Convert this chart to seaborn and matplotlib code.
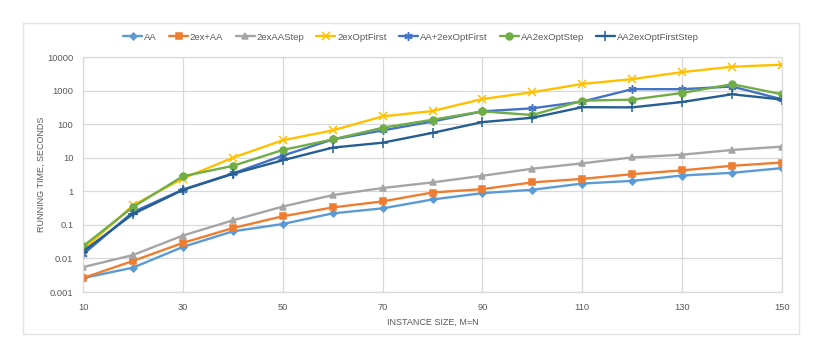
import pandas as pd
import numpy as np
import matplotlib.pyplot as plt
import seaborn as sns
from matplotlib.patches import Rectangle

sizes = [10, 20, 30, 40, 50, 60, 70, 80, 90, 100, 110, 120, 130, 140, 150]

aa = [0.0026, 0.0053, 0.022, 0.064, 0.106, 0.22, 0.31, 0.57, 0.88, 1.11, 1.7, 2.04, 2.95, 3.55, 4.9]
ex_aa = [0.0026, 0.0084, 0.029, 0.08, 0.18, 0.33, 0.50, 0.92, 1.16, 1.84, 2.34, 3.24, 4.2, 5.75, 7.2]
ex_aa_step = [0.0055, 0.0126, 0.048, 0.136, 0.35, 0.77, 1.25, 1.84, 2.9, 4.7, 6.8, 10.2, 12.3, 17, 21.4]
ex_opt_first = [0.018, 0.38, 2.4, 10, 33, 65, 170, 246, 560, 890, 1580, 2190, 3550, 5130, 5900]
aa_ex_opt_first = [0.0132, 0.24, 1.12, 3.4, 11.5, 35, 65, 120, 240, 296, 470, 1100, 1100, 1320, 550]
aa_ex_opt_step = [0.023, 0.34, 2.8, 5.7, 17, 35, 78, 135, 240, 187, 500, 537, 850, 1550, 776]
aa_ex_opt_first_step = [0.016, 0.21, 1.1, 3.3, 8.4, 20, 28, 55, 115, 155, 320, 316, 457, 776, 540]

names = ['AA', '2ex+AA', '2exAAStep', '2exOptFirst', 'AA+2exOptFirst', 'AA2exOptStep', 'AA2exOptFirstStep']
series = [aa, ex_aa, ex_aa_step, ex_opt_first, aa_ex_opt_first, aa_ex_opt_step, aa_ex_opt_first_step]

colors = ['#5B9BD5', '#ED7D31', '#A5A5A5', '#FFC000', '#4472C4', '#70AD47', '#255E91']
markers = ['D', 's', '^', 'x', (6, 2, 0), 'o', '+']
msizes = [3.5, 4.5, 5, 6, 6, 5, 7]

df = pd.concat([pd.DataFrame({'size': sizes, 'time': s, 'algo': n}) for n, s in zip(names, series)])

sns.set_theme(style='white')
plt.rcParams['font.family'] = ['Liberation Sans', 'DejaVu Sans']
txt = '#595959'
grid = '#D9D9D9'

fig = plt.figure(figsize=(8.22, 3.58), dpi=100)
ax = fig.add_axes([83 / 822, 1 - 292 / 358, (782 - 83) / 822, (292 - 57) / 358])

# chart area border
fig.patches.append(Rectangle((22.5 / 822, 1 - 334 / 358), (798.5 - 22.5) / 822, (334 - 23) / 358,
                             transform=fig.transFigure, fill=False, edgecolor='#E3E3E3', lw=1.0))

for n, c, m, ms in zip(names, colors, markers, msizes):
    sub = df[df['algo'] == n]
    sns.lineplot(data=sub, x='size', y='time', ax=ax, color=c, marker=m, markersize=ms,
                 markeredgecolor=c, markeredgewidth=1.1, lw=1.7, label=n)

ax.set_yscale('log')
ax.set_ylim(0.001, 10000)
ax.set_xlim(10, 150)
ax.set_xticks(range(10, 151, 20))
ax.set_yticks([0.001, 0.01, 0.1, 1, 10, 100, 1000, 10000])
ax.set_yticklabels(['0.001', '0.01', '0.1', '1', '10', '100', '1000', '10000'])
ax.minorticks_off()
ax.grid(True, color=grid, lw=0.9)
ax.set_axisbelow(True)
for sp in ax.spines.values():
    sp.set_color(grid)
    sp.set_linewidth(0.9)
ax.tick_params(axis='both', length=0, labelsize=6.7, colors=txt)
ax.tick_params(axis='x', pad=8)
ax.tick_params(axis='y', pad=7)

ax.set_xlabel('INSTANCE SIZE, M=N', fontsize=6.5, color=txt, labelpad=4)
ax.set_ylabel('RUNNING TIME, SECONDS', fontsize=6.5, color=txt, labelpad=1)

handles, labels = ax.get_legend_handles_labels()
ax.legend(handles, labels, ncol=7, loc='center', bbox_to_anchor=(0.5, 1 - 37 / 358),
          bbox_transform=fig.transFigure, frameon=False, fontsize=6.8, labelcolor=txt,
          handlelength=2.0, columnspacing=1.3, handletextpad=0.2)

fig.savefig('out.png', dpi=100)
